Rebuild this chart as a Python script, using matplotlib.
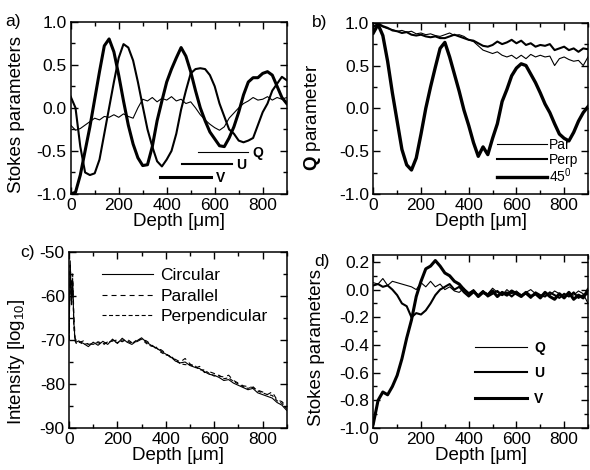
import numpy as np
import matplotlib
matplotlib.use("Agg")
import matplotlib.pyplot as plt
from matplotlib.lines import Line2D
from matplotlib.legend import Legend
from matplotlib.font_manager import FontProperties
from matplotlib.ticker import MultipleLocator, FormatStrFormatter

plt.rcParams['font.family'] = ['Liberation Sans', 'DejaVu Sans']
plt.rcParams['axes.unicode_minus'] = False
plt.rcParams['mathtext.fontset'] = 'custom'
plt.rcParams['mathtext.rm'] = 'Liberation Sans'
plt.rcParams['mathtext.it'] = 'Liberation Sans:italic'
plt.rcParams['mathtext.bf'] = 'Liberation Sans:bold'
plt.rcParams['lines.scale_dashes'] = False

# ---------------- data ----------------
depth = np.arange(0, 901, 20)

# panel a: Stokes parameters vs depth
a_Q = [-0.20, -0.26, -0.24, -0.20, -0.16, -0.12, -0.14, -0.10, -0.11, -0.08,
       -0.11, -0.07, -0.10, -0.12, 0.00, 0.10, 0.08, 0.12, 0.07, 0.11,
       0.09, 0.13, 0.08, 0.10, 0.05, 0.07, 0.00, -0.08, -0.14, -0.19,
       -0.23, -0.26, -0.22, -0.12, -0.06, 0.00, 0.05, 0.08, 0.12, 0.09,
       0.10, 0.13, 0.09, 0.12, 0.10, 0.12]
a_U = [0.13, 0.00, -0.45, -0.75, -0.78, -0.76, -0.60, -0.30, 0.00, 0.30,
       0.58, 0.74, 0.70, 0.55, 0.30, 0.02, -0.25, -0.45, -0.62, -0.68,
       -0.60, -0.50, -0.30, -0.02, 0.20, 0.40, 0.45, 0.46, 0.45, 0.38,
       0.25, 0.05, -0.10, -0.25, -0.30, -0.38, -0.40, -0.38, -0.35, -0.20,
       -0.05, 0.05, 0.20, 0.28, 0.36, 0.32]
a_V = [-1.00, -0.98, -0.78, -0.50, -0.22, 0.10, 0.42, 0.72, 0.80, 0.65,
       0.38, 0.08, -0.20, -0.42, -0.58, -0.67, -0.66, -0.45, -0.15, 0.08,
       0.30, 0.45, 0.58, 0.70, 0.60, 0.42, 0.20, 0.00, -0.15, -0.28,
       -0.36, -0.44, -0.45, -0.35, -0.22, -0.05, 0.15, 0.30, 0.35, 0.35,
       0.40, 0.42, 0.38, 0.25, 0.12, 0.05]

# panel b: Q parameter for three input polarisations
b_par = [0.88, 0.98, 0.95, 0.93, 0.92, 0.90, 0.91, 0.89, 0.90, 0.87,
         0.88, 0.86, 0.87, 0.85, 0.84, 0.86, 0.88, 0.85, 0.86, 0.84,
         0.80, 0.78, 0.73, 0.68, 0.66, 0.64, 0.66, 0.62, 0.60, 0.62,
         0.58, 0.62, 0.58, 0.63, 0.60, 0.62, 0.60, 0.61, 0.50, 0.58,
         0.60, 0.57, 0.55, 0.56, 0.50, 0.60]
b_perp = [0.95, 0.99, 0.96, 0.94, 0.91, 0.90, 0.88, 0.89, 0.86, 0.85,
          0.86, 0.84, 0.83, 0.84, 0.82, 0.82, 0.84, 0.86, 0.84, 0.82,
          0.80, 0.79, 0.76, 0.73, 0.72, 0.74, 0.78, 0.75, 0.77, 0.80,
          0.76, 0.79, 0.74, 0.76, 0.72, 0.74, 0.73, 0.75, 0.68, 0.70,
          0.72, 0.68, 0.70, 0.66, 0.70, 0.69]
b_45 = [0.88, 0.98, 0.85, 0.55, 0.18, -0.15, -0.48, -0.66, -0.72, -0.58,
        -0.30, 0.00, 0.25, 0.48, 0.70, 0.77, 0.60, 0.40, 0.20, -0.02,
        -0.20, -0.40, -0.56, -0.45, -0.54, -0.35, -0.18, 0.08, 0.22, 0.38,
        0.47, 0.52, 0.50, 0.40, 0.30, 0.18, 0.05, -0.05, -0.18, -0.30,
        -0.35, -0.38, -0.28, -0.15, -0.05, 0.02]

# panel c: intensity (log10)
depth_c = [0, 5, 10, 15, 20, 25, 30] + list(range(40, 901, 20))
c_circ = [-70, -52, -62, -56, -66, -70, -70.5,
          -70.2, -70.8, -71.5, -70.5, -71.2, -70.3, -71.0, -69.8, -70.8, -69.6,
          -70.5, -71.0, -70.2, -69.5, -70.5, -71.2, -71.8, -72.5, -73.2, -73.8,
          -74.8, -75.2, -75.0, -75.8, -76.2, -76.5, -77.2, -77.8, -78.0, -78.5,
          -79.2, -79.0, -79.8, -80.3, -80.8, -81.3, -81.0, -82.0, -82.4, -82.8,
          -83.2, -84.2, -84.8, -86.0]
c_par = [-70, -53, -58, -55, -64, -69.5, -70.2,
         -70.6, -70.2, -71.0, -70.8, -70.6, -71.2, -70.4, -70.2, -70.0, -70.4,
         -69.8, -70.6, -70.4, -69.8, -70.2, -71.0, -72.0, -72.2, -73.0, -74.0,
         -74.4, -75.0, -74.2, -75.4, -76.4, -76.0, -77.4, -77.2, -77.6, -78.2,
         -78.4, -78.0, -79.2, -79.8, -80.4, -80.6, -80.8, -81.4, -81.8, -82.4,
         -81.8, -83.6, -84.0, -85.2]
c_perp = [-70, -54, -61, -57, -67, -70.2, -70.8,
          -70.4, -71.0, -70.8, -71.0, -70.4, -70.8, -70.6, -70.2, -70.6, -70.0,
          -70.2, -70.8, -70.0, -69.8, -70.8, -71.4, -71.6, -72.8, -73.4, -73.6,
          -74.6, -75.4, -75.6, -75.6, -75.8, -76.8, -76.8, -77.6, -78.2, -78.0,
          -78.8, -78.6, -79.4, -80.0, -80.6, -81.0, -80.6, -81.6, -82.0, -82.4,
          -82.6, -83.8, -84.4, -85.6]

# panel d: Stokes parameters vs depth
d_Q = [0.05, 0.04, 0.08, 0.03, 0.06, 0.05, 0.04, 0.03, 0.02, 0.00,
       0.05, 0.02, 0.06, 0.02, 0.04, 0.00, 0.02, -0.01, -0.02, 0.01,
       -0.03, 0.00, -0.04, -0.01, -0.03, 0.01, -0.02, -0.04, 0.00, -0.03,
       -0.01, -0.04, -0.02, 0.00, -0.03, -0.05, -0.02, -0.04, -0.01, -0.03,
       -0.05, -0.02, -0.04, -0.01, -0.03, -0.10]
d_U = [0.03, 0.04, 0.02, 0.03, 0.00, -0.04, -0.10, -0.12, -0.20, -0.17,
       -0.18, -0.15, -0.10, -0.04, 0.00, 0.02, 0.04, 0.00, 0.02, -0.02,
       -0.05, -0.02, -0.04, -0.01, -0.05, -0.03, -0.01, -0.04, -0.02, -0.05,
       -0.02, -0.04, -0.03, -0.06, -0.02, -0.04, -0.05, -0.02, -0.04, -0.06,
       -0.03, -0.05, -0.02, -0.06, -0.04, -0.03]
d_V = [-0.97, -0.80, -0.74, -0.76, -0.70, -0.62, -0.50, -0.35, -0.22, -0.05,
       0.06, 0.15, 0.17, 0.21, 0.17, 0.12, 0.10, 0.06, 0.04, 0.00,
       -0.03, -0.01, -0.05, -0.02, -0.04, -0.01, -0.05, -0.02, -0.04, -0.01,
       -0.03, -0.05, -0.02, -0.05, -0.03, -0.06, -0.02, -0.05, -0.07, -0.03,
       -0.06, -0.02, -0.07, -0.04, -0.06, 0.00]

xticks = [0, 200, 400, 600, 800]
xlabel = "Depth [\u03bcm]"

# ---------------- figure ----------------
fig = plt.figure(figsize=(5.9, 4.7), dpi=100)
W, H = 590.0, 470.0


def make_axes(l, r, t, b):
    return fig.add_axes([l / W, 1 - b / H, (r - l) / W, (b - t) / H])


axA = make_axes(70.7, 286.7, 21.7, 194.0)
axB = make_axes(373.3, 588.0, 22.7, 194.0)
axC = make_axes(69.0, 286.7, 252.0, 428.0)
axD = make_axes(373.3, 588.0, 255.0, 428.0)

TICK_FS = 12.5
LAB_FS = 13.5


def style(ax, ylim, ymaj, ymin, yfmt):
    ax.set_xlim(0, 900)
    ax.set_ylim(*ylim)
    ax.xaxis.set_major_locator(MultipleLocator(200))
    ax.xaxis.set_minor_locator(MultipleLocator(100))
    ax.yaxis.set_major_locator(MultipleLocator(ymaj))
    ax.yaxis.set_minor_locator(MultipleLocator(ymin))
    ax.yaxis.set_major_formatter(FormatStrFormatter(yfmt))
    ax.set_xticks(xticks)
    ax.tick_params(which='both', direction='in', top=True, right=True,
                   labelsize=TICK_FS, width=1.0)
    ax.tick_params(which='major', length=5, pad=3)
    ax.tick_params(which='minor', length=3)
    for s in ax.spines.values():
        s.set_linewidth(1.1)
    ax.set_xlabel(xlabel, fontsize=LAB_FS, labelpad=0)


def add_key(ax, x, y, label, hl, pad, prop, **kw):
    h = Line2D([], [], color='black', **kw)
    leg = Legend(ax, [h], [label], loc='center left', bbox_to_anchor=(x, y),
                 bbox_transform=ax.transAxes, frameon=False, handlelength=hl,
                 handletextpad=pad, borderpad=0, borderaxespad=0, prop=prop)
    ax.add_artist(leg)


keyprop = FontProperties(family=['Liberation Sans Narrow', 'Liberation Sans'],
                         weight='bold', size=10)

# panel a
axA.plot(depth, a_Q, color='black', lw=0.8)
axA.plot(depth, a_U, color='black', lw=1.5)
axA.plot(depth, a_V, color='black', lw=2.2)
style(axA, (-1.0, 1.0), 0.5, 0.25, '%.1f')
axA.set_ylabel("Stokes parameters", fontsize=LAB_FS)
axA.yaxis.set_label_coords(-0.2116, 0.464)
add_key(axA, 0.589, 0.236, "Q", 3.6, 0.3, keyprop, lw=0.8)
add_key(axA, 0.515, 0.168, "U", 3.6, 0.3, keyprop, lw=1.5)
add_key(axA, 0.413, 0.093, "V", 3.7, 0.3, keyprop, lw=2.2)

# panel b
axB.plot(depth, b_par, color='black', lw=0.8)
axB.plot(depth, b_perp, color='black', lw=1.5)
axB.plot(depth, b_45, color='black', lw=2.4)
style(axB, (-1.0, 1.0), 0.5, 0.25, '%.1f')
axB.set_ylabel("$\\mathbf{Q}$ parameter", fontsize=LAB_FS)
axB.yaxis.set_label_coords(-0.2345, 0.447)
plainB = FontProperties(family=['Liberation Sans', 'DejaVu Sans'], size=10)
add_key(axB, 0.577, 0.285, "Par", 3.6, 0.15, plainB, lw=0.8)
add_key(axB, 0.577, 0.197, "Perp", 3.6, 0.15, plainB, lw=1.5)
add_key(axB, 0.577, 0.109, "45$^{\\mathregular{0}}$", 3.6, 0.15, plainB, lw=2.4)

# panel c
axC.plot(depth_c, c_circ, color='black', lw=0.8)
axC.plot(depth_c, c_par, color='black', lw=0.8, linestyle=(0, (3.6, 2.9)))
axC.plot(depth_c, c_perp, color='black', lw=0.8, linestyle=(0, (2.9, 1.8)))
style(axC, (-90, -50), 10, 5, '%d')
axC.set_ylabel("Intensity [log$_{\\mathregular{10}}$]", fontsize=LAB_FS)
axC.yaxis.set_label_coords(-0.193, 0.375)
plainC = FontProperties(family=['Liberation Sans', 'DejaVu Sans'], size=12.5)
add_key(axC, 0.152, 0.865, "Circular", 2.95, 0.4, plainC, lw=0.8)
add_key(axC, 0.152, 0.746, "Parallel", 2.95, 0.4, plainC, lw=0.8,
        linestyle=(0, (3.6, 2.9)))
add_key(axC, 0.152, 0.632, "Perpendicular", 2.95, 0.4, plainC, lw=0.8,
        linestyle=(0, (2.9, 1.8)))

# panel d
axD.plot(depth, d_Q, color='black', lw=0.8)
axD.plot(depth, d_U, color='black', lw=1.5)
axD.plot(depth, d_V, color='black', lw=2.2)
style(axD, (-1.0, 0.25), 0.2, 0.1, '%.1f')
axD.set_ylim(-1.0, 0.25)
axD.set_ylabel("Stokes parameters", fontsize=LAB_FS)
axD.yaxis.set_label_coords(-0.225, 0.465)
add_key(axD, 0.474, 0.462, "Q", 3.75, 0.5, keyprop, lw=0.8)
add_key(axD, 0.474, 0.318, "U", 3.75, 0.5, keyprop, lw=1.5)
add_key(axD, 0.474, 0.168, "V", 3.75, 0.5, keyprop, lw=2.2)

# panel letters
fig.text(5 / W, 1 - 21.7 / H, "a)", fontsize=TICK_FS, ha='left', va='center')
fig.text(312 / W, 1 - 22.7 / H, "b)", fontsize=TICK_FS, ha='left', va='center')
fig.text(20 / W, 1 - 252 / H, "c)", fontsize=TICK_FS, ha='left', va='center')
fig.text(314 / W, 1 - 261.7 / H, "d)", fontsize=TICK_FS, ha='left', va='center')

fig.savefig("out.png", dpi=100)
